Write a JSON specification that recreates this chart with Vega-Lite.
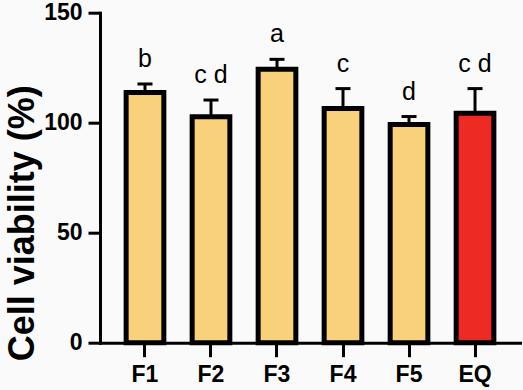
{
  "$schema": "https://vega.github.io/schema/vega-lite/v6.json",
  "width": 420,
  "height": 330,
  "autosize": {"type": "none"},
  "padding": {"left": 100, "top": 12.7, "right": 3, "bottom": 47.3},
  "background": "#FAFAFA",
  "config": {"view": {"stroke": null}, "font": "Liberation Sans"},
  "data": {
    "values": [
      {"group": "F1", "mean": 113.7, "upper": 117.6, "letter": "b"},
      {"group": "F2", "mean": 102.7, "upper": 110.3, "letter": "c d"},
      {"group": "F3", "mean": 124.3, "upper": 128.8, "letter": "a"},
      {"group": "F4", "mean": 106.5, "upper": 115.5, "letter": "c"},
      {"group": "F5", "mean": 99.2, "upper": 102.8, "letter": "d"},
      {"group": "EQ", "mean": 104.3, "upper": 115.5, "letter": "c d"}
    ]
  },
  "encoding": {
    "x": {
      "field": "group",
      "type": "nominal",
      "sort": null,
      "scale": {"paddingInner": 0.429, "paddingOuter": 0.396},
      "axis": {
        "title": null,
        "labelAngle": 0,
        "labelFont": "Liberation Sans",
        "labelFontWeight": "bold",
        "labelFontSize": 23,
        "labelColor": "black",
        "labelPadding": 7,
        "tickSize": 14,
        "tickWidth": 3,
        "tickColor": "black",
        "domainWidth": 3,
        "domainColor": "black",
        "domainCap": "square",
        "zindex": 1
      }
    }
  },
  "layer": [
    {
      "mark": {"type": "bar", "stroke": "black", "strokeWidth": 5, "strokeJoin": "miter"},
      "encoding": {
        "y": {
          "field": "mean",
          "type": "quantitative",
          "scale": {"domain": [0, 150], "nice": false},
          "axis": {
            "values": [0, 50, 100, 150],
            "grid": false,
            "title": "Cell viability (%)",
            "titleFont": "Liberation Sans",
            "titleFontSize": 36,
            "titleFontWeight": "bold",
            "titleColor": "black",
            "titleAngle": -90,
            "titleAlign": "center",
            "titleBaseline": "alphabetic",
            "titleX": -67,
            "titleY": 210,
            "labelFont": "Liberation Sans",
            "labelFontWeight": "bold",
            "labelFontSize": 23,
            "labelColor": "black",
            "labelPadding": 6,
            "tickSize": 12,
            "tickWidth": 3,
            "tickColor": "black",
            "domainWidth": 3,
            "domainColor": "black",
            "domainCap": "square",
            "zindex": 1
          }
        },
        "fill": {
          "field": "group",
          "type": "nominal",
          "scale": {
            "domain": ["F1", "F2", "F3", "F4", "F5", "EQ"],
            "range": ["#F8D17A", "#F8D17A", "#F8D17A", "#F8D17A", "#F8D17A", "#EE2A24"]
          },
          "legend": null
        }
      }
    },
    {
      "mark": {"type": "rule", "strokeWidth": 3, "color": "black"},
      "encoding": {
        "y": {"field": "mean", "type": "quantitative"},
        "y2": {"field": "upper"}
      }
    },
    {
      "mark": {"type": "tick", "orient": "horizontal", "size": 15, "thickness": 3, "color": "black", "opacity": 1},
      "encoding": {
        "y": {"field": "upper", "type": "quantitative"}
      }
    },
    {
      "mark": {"type": "text", "dy": -17, "baseline": "alphabetic", "align": "center", "fontSize": 25, "font": "Liberation Sans", "color": "black"},
      "encoding": {
        "y": {"field": "upper", "type": "quantitative"},
        "text": {"field": "letter"}
      }
    }
  ]
}
